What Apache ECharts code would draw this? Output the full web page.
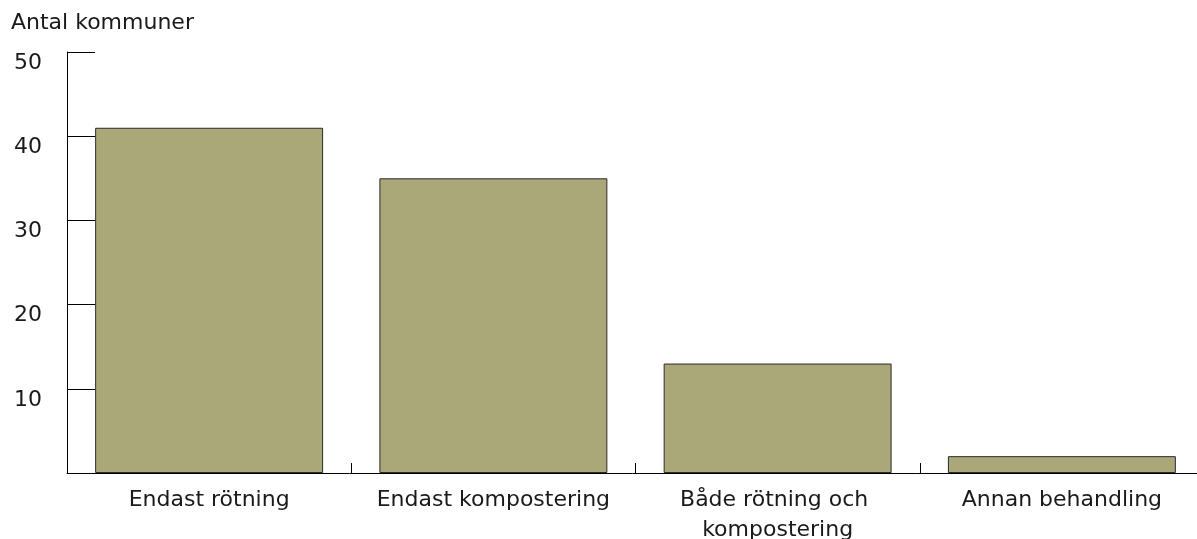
<!DOCTYPE html>
<html>
<head>
<meta charset="utf-8">
<script src="https://cdn.jsdelivr.net/npm/echarts@6/dist/echarts.min.js"></script>
<style>html,body{margin:0;padding:0;background:#fff}#c{width:1197px;height:539px}</style>
</head>
<body>
<div id="c"></div>
<script>
const categories = ["Endast rötning", "Endast kompostering", "Både rötning och kompostering", "Annan behandling"];
const values = [41, 35, 13, 2];
const yTicks = [0, 10, 20, 30, 40, 50];
const yTitle = "Antal kommuner";

const FONT = "DejaVu Sans";
const chart = echarts.init(document.getElementById('c'), null, {renderer: 'canvas'});
chart.setOption({
  animation: false,
  backgroundColor: '#fff',
  title: {
    text: yTitle, left: 6, top: 7,
    textStyle: {fontFamily: FONT, fontSize: 22, fontWeight: 'normal', color: '#1a1a1a'}
  },
  grid: {left: 67, top: 52, width: 1137, height: 421, containLabel: false, outerBoundsMode: 'none'},
  xAxis: {
    type: 'category', data: categories,
    axisLine: {lineStyle: {color: '#000', width: 1}},
    axisTick: {show: true, interval: 0, inside: true, length: 10, lineStyle: {color: '#000', width: 1}},
    axisLabel: {
      fontFamily: FONT, fontSize: 22, color: '#1a1a1a', margin: 12,
      width: 260, overflow: 'break', lineHeight: 30, interval: 0
    },
    splitLine: {show: false}
  },
  yAxis: {
    type: 'value', min: yTicks[0], max: yTicks[yTicks.length - 1], interval: 10,
    axisLine: {show: true, lineStyle: {color: '#000', width: 1}},
    axisTick: {show: true, inside: true, length: 28, lineStyle: {color: '#000'}},
    axisLabel: {
      fontFamily: FONT, fontSize: 22, color: '#1a1a1a', margin: 25,
      verticalAlign: 'top', showMinLabel: false
    },
    splitLine: {show: false}
  },
  series: [{
    type: 'bar', data: values, barCategoryGap: '19.8%',
    itemStyle: {color: '#aaa878', borderColor: '#2a2a2a', borderWidth: 1}
  }]
});
</script>
</body>
</html>
